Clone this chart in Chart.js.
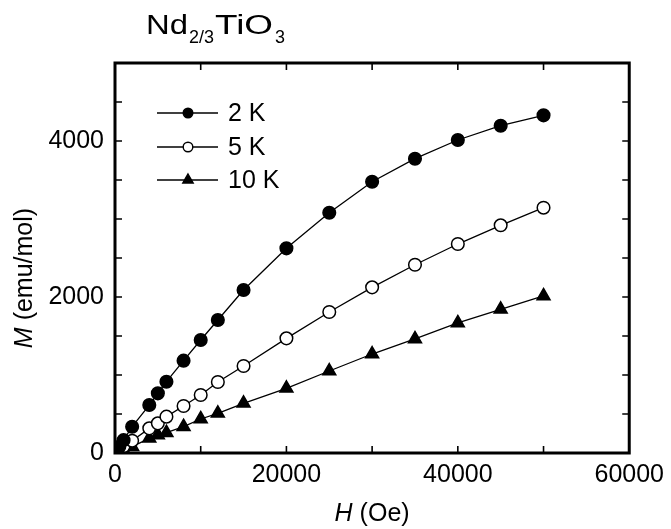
<!DOCTYPE html>
<html><head><meta charset="utf-8">
<script src="https://cdn.jsdelivr.net/npm/chart.js@4.4.0/dist/chart.umd.min.js"></script>
<style>html,body{margin:0;padding:0;background:#fff}#wrap{width:671px;height:529px}</style>
</head><body><div id="wrap"><canvas id="c" width="671" height="529"></canvas></div>
<script>
const fieldH2K = [0, 200, 500, 1000, 2000, 4000, 5000, 6000, 8000, 10000, 12000, 15000, 20000, 25000, 30000, 35000, 40000, 45000, 50000];
const moment2K = [0, 25, 80, 165, 337, 615, 765, 914, 1184, 1449, 1705, 2090, 2624, 3081, 3478, 3773, 4013, 4196, 4329];
const fieldH5K = [0, 500, 1000, 2000, 4000, 5000, 6000, 8000, 10000, 12000, 15000, 20000, 25000, 30000, 35000, 40000, 45000, 50000];
const moment5K = [0, 40, 85, 158, 316, 380, 466, 603, 744, 910, 1115, 1470, 1808, 2124, 2414, 2679, 2919, 3145];
const fieldH10K = [0, 1000, 2000, 4000, 5000, 6000, 8000, 10000, 12000, 15000, 20000, 25000, 30000, 35000, 40000, 45000, 50000];
const moment10K = [0, 40, 81, 188, 231, 260, 337, 436, 509, 637, 829, 1051, 1269, 1462, 1667, 1842, 2013];
const seriesLabels = ['2 K', '5 K', '10 K'];
const xTickLabels = ['0', '20000', '40000', '60000'];
const yTickLabels = ['0', '2000', '4000'];

const FONT = '"Liberation Sans", Arial, Helvetica, sans-serif';
const pts = (xs, ys) => xs.map((x, i) => ({x: x, y: ys[i]}));

const styles = [
  {pointStyle: 'circle', bg: '#000', r: 6.3},
  {pointStyle: 'circle', bg: '#fff', r: 6.3},
  {pointStyle: 'triangle', bg: '#000', r: 7.5}
];
const dataSets = [pts(fieldH2K, moment2K), pts(fieldH5K, moment5K), pts(fieldH10K, moment10K)];

const datasets = dataSets.map((d, i) => ({
  label: seriesLabels[i],
  data: d,
  borderColor: '#000',
  borderWidth: 1.3,
  backgroundColor: styles[i].bg,
  pointStyle: styles[i].pointStyle,
  pointRadius: styles[i].r,
  pointBorderWidth: 1.5,
  pointBorderColor: '#000',
  pointBackgroundColor: styles[i].bg,
  showLine: true,
  tension: 0
}));

function fitText(ctx, txt, x, base, targetW, font) {
  ctx.font = font;
  const w = ctx.measureText(txt).width;
  ctx.save();
  ctx.translate(x, base);
  ctx.scale(targetW / w, 1);
  ctx.fillText(txt, 0, 0);
  ctx.restore();
}

const decor = {
  id: 'decor',
  afterDraw(chart) {
    const ctx = chart.ctx;
    const a = chart.chartArea;
    const xs = chart.scales.x, ys = chart.scales.y;
    ctx.save();
    // inward ticks
    ctx.strokeStyle = '#000';
    ctx.lineWidth = 1.6;
    for (let v = 0; v <= 60000; v += 10000) {
      const px = xs.getPixelForValue(v);
      const L = 7;
      ctx.beginPath();
      ctx.moveTo(px, a.bottom); ctx.lineTo(px, a.bottom - L);
      ctx.moveTo(px, a.top); ctx.lineTo(px, a.top + L);
      ctx.stroke();
    }
    for (let v = 0; v <= 5000; v += 500) {
      const py = ys.getPixelForValue(v);
      const L = 7;
      ctx.beginPath();
      ctx.moveTo(a.left, py); ctx.lineTo(a.left + L, py);
      ctx.moveTo(a.right, py); ctx.lineTo(a.right - L, py);
      ctx.stroke();
    }
    // frame
    ctx.lineWidth = 3;
    ctx.strokeRect(a.left, a.top, a.right - a.left, a.bottom - a.top);

    ctx.fillStyle = '#000';
    ctx.textBaseline = 'alphabetic';
    ctx.textAlign = 'left';
    // title Nd2/3TiO3
    fitText(ctx, 'Nd', 146, 34, 42, '27px ' + FONT);
    fitText(ctx, '2/3', 189, 43, 25, '18px ' + FONT);
    fitText(ctx, 'TiO', 215, 34, 58, '27px ' + FONT);
    fitText(ctx, '3', 275, 43, 10, '18px ' + FONT);

    // x axis title
    ctx.font = 'italic 25px ' + FONT;
    const wH = ctx.measureText('H').width;
    ctx.font = '25px ' + FONT;
    const wR = ctx.measureText(' (Oe)').width;
    let sx = (a.left + a.right) / 2 - (wH + wR) / 2;
    ctx.font = 'italic 25px ' + FONT;
    ctx.fillText('H', sx, 521);
    ctx.font = '25px ' + FONT;
    ctx.fillText(' (Oe)', sx + wH, 521);

    // y axis title
    ctx.save();
    ctx.translate(32, 278);
    ctx.rotate(-Math.PI / 2);
    ctx.font = 'italic 25px ' + FONT;
    const wM = ctx.measureText('M').width;
    ctx.font = '25px ' + FONT;
    const wU = ctx.measureText(' (emu/mol)').width;
    let sy = -(wM + wU) / 2;
    ctx.font = 'italic 25px ' + FONT;
    ctx.fillText('M', sy, 0);
    ctx.font = '25px ' + FONT;
    ctx.fillText(' (emu/mol)', sy + wM, 0);
    ctx.restore();

    // legend
    const rows = [113, 147, 180];
    chart.data.datasets.forEach((ds, i) => {
      const y = rows[i];
      ctx.strokeStyle = '#000';
      ctx.lineWidth = 1.3;
      ctx.beginPath(); ctx.moveTo(157, y); ctx.lineTo(218, y); ctx.stroke();
      ctx.fillStyle = ds.pointBackgroundColor;
      ctx.lineWidth = 1.4;
      ctx.beginPath();
      if (ds.pointStyle === 'circle') { ctx.arc(188, y, 4.8, 0, Math.PI * 2); }
      else {
        const r = 6;
        ctx.moveTo(188, y - r); ctx.lineTo(188 + r * 0.866, y + r * 0.5); ctx.lineTo(188 - r * 0.866, y + r * 0.5); ctx.closePath();
      }
      ctx.fill(); ctx.stroke();
      ctx.fillStyle = '#000';
      ctx.font = '25px ' + FONT;
      ctx.textBaseline = 'middle';
      ctx.fillText(ds.label, 228, y + 1);
      ctx.textBaseline = 'alphabetic';
    });
    ctx.restore();
  }
};

new Chart(document.getElementById('c'), {
  type: 'scatter',
  data: {datasets},
  options: {
    responsive: false,
    animation: false,
    devicePixelRatio: 1,
    layout: {padding: {left: 0, right: 40, top: 63, bottom: 0}},
    plugins: {legend: {display: false}, tooltip: {enabled: false}, title: {display: false}},
    scales: {
      x: {
        type: 'linear', min: 0, max: 60000,
        grid: {display: false, drawTicks: false},
        border: {display: false},
        ticks: {
          stepSize: 10000, padding: 7, color: '#000', font: {family: FONT, size: 25},
          maxRotation: 0, autoSkip: false,
          callback: v => (v % 20000 === 0 ? xTickLabels[v / 20000] : '')
        },
        afterFit: s => { s.height = 76; }
      },
      y: {
        type: 'linear', min: 0, max: 5000,
        grid: {display: false, drawTicks: false},
        border: {display: false},
        ticks: {
          stepSize: 500, padding: 11, color: '#000', font: {family: FONT, size: 25},
          autoSkip: false,
          callback: v => (v % 2000 === 0 ? yTickLabels[v / 2000] : '')
        },
        afterFit: s => { s.width = 115; }
      }
    }
  },
  plugins: [decor]
});
</script></body></html>
